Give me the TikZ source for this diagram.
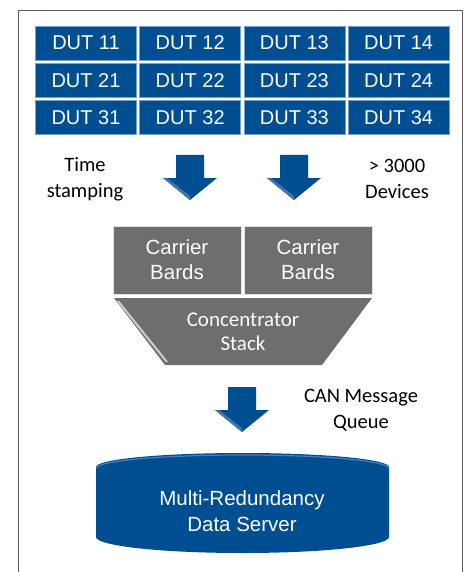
\documentclass[tikz,border=0pt]{standalone}
\usepackage{fontspec}
\setmainfont{Liberation Sans}
\newfontfamily\calibri{Carlito}
\definecolor{dutblue}{RGB}{0,78,146}
\definecolor{rimblue}{RGB}{120,160,205}
\definecolor{boardgray}{RGB}{110,110,110}
\definecolor{framegray}{RGB}{90,90,90}
\tikzset{
  dut/.style={rectangle, fill=dutblue, draw=rimblue, line width=0.8pt, minimum width=101pt, minimum height=34pt, inner sep=0pt, text=white, font=\fontsize{20}{25}\selectfont},
  board/.style={rectangle, fill=boardgray, draw=white!80!boardgray, line width=0.6pt, minimum width=128pt, minimum height=68pt, inner sep=0pt, align=center, text=white, font=\fontsize{20.5}{25}\selectfont},
  lbl/.style={align=center, inner sep=0pt, font=\calibri\fontsize{20.5}{26}\selectfont},
  blockarrow/.pic={
    \fill[dutblue] (-14,0) -- (14,0) -- (14,-23) -- (27,-23) -- (0,-45) -- (-27,-23) -- (-14,-23) -- cycle;
    \fill[rimblue!50!dutblue] (-27,-23) -- (-23,-23) -- (0,-41) -- (0,-45) -- cycle;
  }
}
\begin{document}
\begin{tikzpicture}[x=1pt,y=1pt]

  \clip (0,0) rectangle (465,-572);
  \draw[framegray, line width=1pt] (18.5,-10.5) rectangle (462.8,-600);

  % DUT grid
  \foreach \r in {1,2,3}
    \foreach \c in {1,2,3,4}
      \node[dut] (d\r\c) at ({86+(\c-1)*104.2},{-43-(\r-1)*37.2}) {DUT \r\c};

  \node[lbl] (tstamp) at (85,-179) {Time\\stamping};
  \node[lbl] (ndev) at (397,-179) {> 3000\\Devices};
  \pic (arrA) at (190,-155) {blockarrow};
  \pic (arrB) at (294,-155) {blockarrow};

  % carrier boards and concentrator
  \node[board] (cbA) at (177,-260) {Carrier\\Bards};
  \node[board] (cbB) at (308,-260) {Carrier\\Bards};
  \fill[boardgray] (114,-298) -- (372,-298) -- (322,-365) -- (165,-365) -- cycle;
  \draw[white!65!boardgray, line width=2pt] (118,-301) -- (167,-362);
  \node[lbl, text=white, font=\calibri\fontsize{21}{24}\selectfont] (conc) at (243,-332) {Concentrator\\Stack};

  \pic (arrC) at (242,-387) {blockarrow};
  \node[lbl] (canq) at (361,-410) {CAN Message\\Queue};

  % data server
  \fill[dutblue] (96,-467) arc[start angle=180, end angle=0, x radius=146.5, y radius=14]
    -- (389,-537) arc[start angle=0, end angle=-180, x radius=146.5, y radius=16] -- cycle;
  \draw[rimblue!60!dutblue, line width=1.2pt] (97,-468) arc[start angle=180, end angle=0, x radius=145.5, y radius=13];
  \node[align=center, text=white, inner sep=0pt, font=\fontsize{20.5}{26}\selectfont] (srv) at (242,-511) {Multi-Redundancy\\Data Server};

\end{tikzpicture}
\end{document}
